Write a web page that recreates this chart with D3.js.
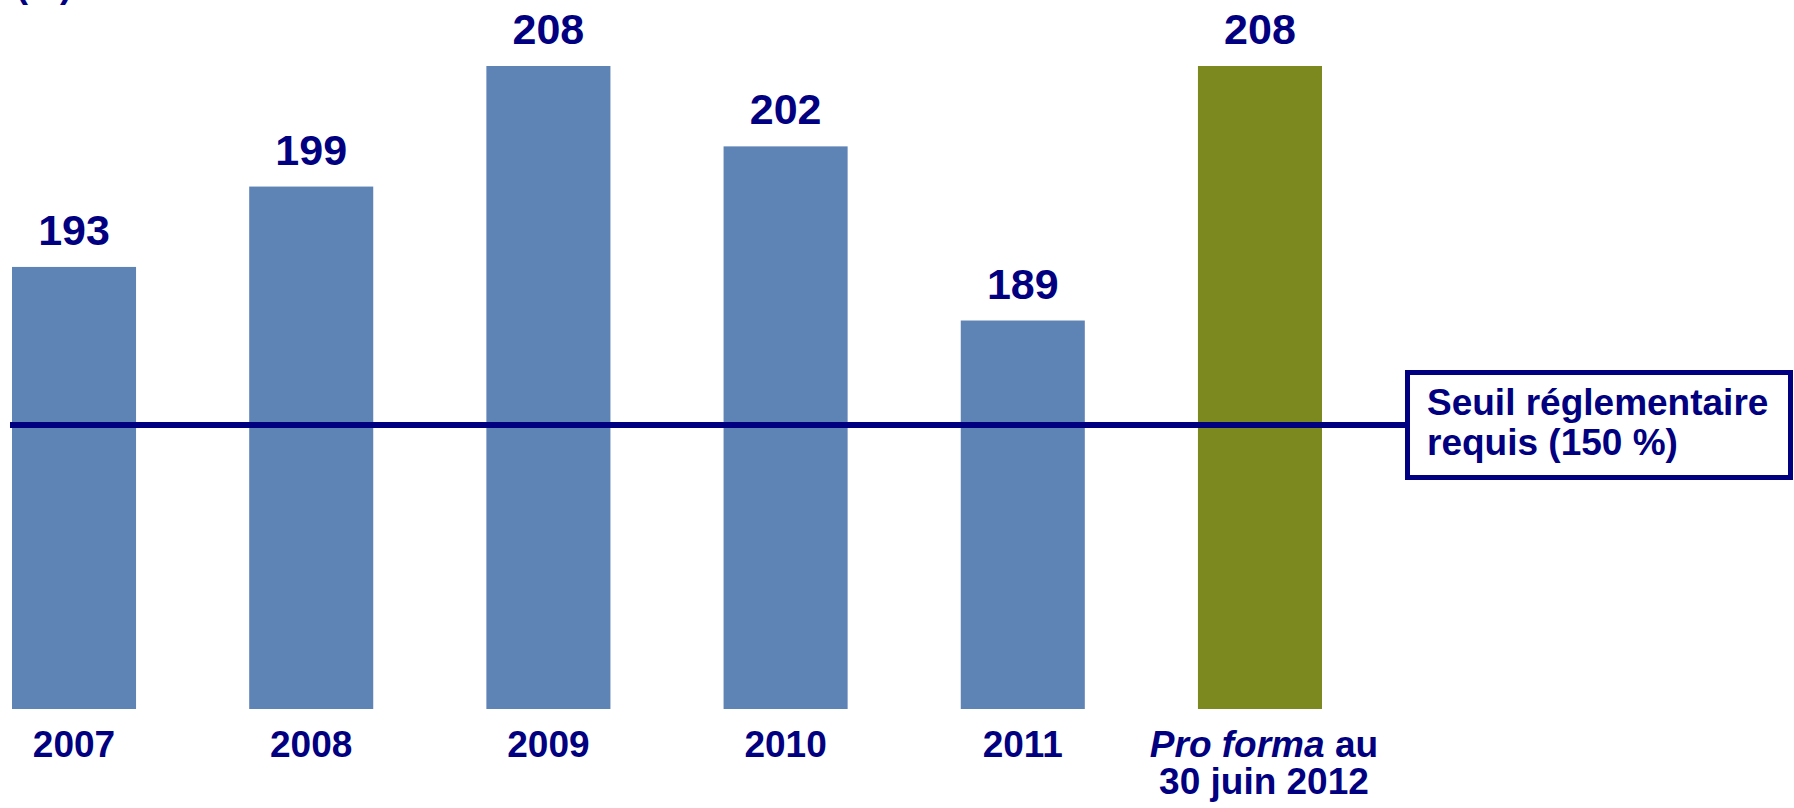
<!DOCTYPE html>
<html>
<head>
<meta charset="utf-8">
<script src="https://cdn.jsdelivr.net/npm/d3@7/dist/d3.min.js"></script>
<style>
  html, body { margin: 0; padding: 0; background: #ffffff; }
  svg { display: block; }
</style>
</head>
<body>
<svg id="chart" width="1794" height="808"></svg>
<script>
// ---- data ----
const categories = ["2007", "2008", "2009", "2010", "2011", "Pro forma au 30 juin 2012"];
const values = [193, 199, 208, 202, 189, 208];
const isProForma = [false, false, false, false, false, true];
const unitLabel = "(%)";
const thresholdLabel = ["Seuil réglementaire", "requis (150 %)"];

// ---- layout ----
const W = 1794, H = 808;
const navy = "#000080";
const blue = "#5E83B5";
const olive = "#7B891E";
const font = "'Liberation Sans', Arial, Helvetica, sans-serif";

const svg = d3.select("#chart");

const x = d3.scaleBand()
  .domain(categories)
  .range([12, 1322])
  .paddingInner(0.477)
  .paddingOuter(0);

const y = d3.scaleLinear()
  .domain([160, 208])
  .range([709, 66]);

// bars
svg.append("g").selectAll("rect")
  .data(categories)
  .join("rect")
  .attr("x", d => x(d))
  .attr("y", (d, i) => y(values[i]))
  .attr("width", x.bandwidth())
  .attr("height", (d, i) => y(y.domain()[0]) - y(values[i]))
  .attr("fill", (d, i) => isProForma[i] ? olive : blue);

// value labels
svg.append("g").selectAll("text")
  .data(categories)
  .join("text")
  .attr("x", d => x(d) + x.bandwidth() / 2)
  .attr("y", (d, i) => y(values[i]) - 22)
  .attr("text-anchor", "middle")
  .attr("font-family", font)
  .attr("font-weight", "bold")
  .attr("font-size", 43)
  .attr("fill", navy)
  .text((d, i) => values[i]);

// category labels
const catG = svg.append("g");
categories.forEach((c, i) => {
  const cx = x(c) + x.bandwidth() / 2;
  const t = catG.append("text")
    .attr("text-anchor", "middle")
    .attr("font-family", font)
    .attr("font-weight", "bold")
    .attr("font-size", 37)
    .attr("fill", navy);
  if (isProForma[i]) {
    t.append("tspan").attr("x", cx + 4).attr("y", 757).attr("font-style", "italic").text("Pro forma");
    t.append("tspan").text(" au");
    t.append("tspan").attr("x", cx + 4).attr("y", 794).text("30 juin 2012");
  } else {
    t.append("tspan").attr("x", cx).attr("y", 757).text(c);
  }
});

// threshold line (schematic position on the broken axis)
const plotTop = y(y.domain()[1]);
const plotBottom = y(y.domain()[0]);
const thresholdFrac = 0.5583;
const lineY = plotTop + thresholdFrac * (plotBottom - plotTop);
const boxLeft = 1405, boxTop = 370, boxW = 388, boxH = 110, bw = 5;

svg.append("line")
  .attr("x1", 10).attr("x2", boxLeft + bw / 2)
  .attr("y1", lineY).attr("y2", lineY)
  .attr("stroke", navy)
  .attr("stroke-width", 6);

svg.append("rect")
  .attr("x", boxLeft + bw / 2).attr("y", boxTop + bw / 2)
  .attr("width", boxW - bw).attr("height", boxH - bw)
  .attr("fill", "#ffffff")
  .attr("stroke", navy)
  .attr("stroke-width", bw);

const bt = svg.append("text")
  .attr("font-family", font)
  .attr("font-weight", "bold")
  .attr("font-size", 37)
  .attr("fill", navy);
thresholdLabel.forEach((s, i) => {
  bt.append("tspan").attr("x", 1427).attr("y", 415 + i * 40).text(s);
});

// unit label (cut at top, as in the reference)
svg.append("text")
  .attr("x", 16).attr("y", -3)
  .attr("font-family", font)
  .attr("font-weight", "bold")
  .attr("font-size", 36)
  .attr("fill", navy)
  .text(unitLabel);
</script>
</body>
</html>
